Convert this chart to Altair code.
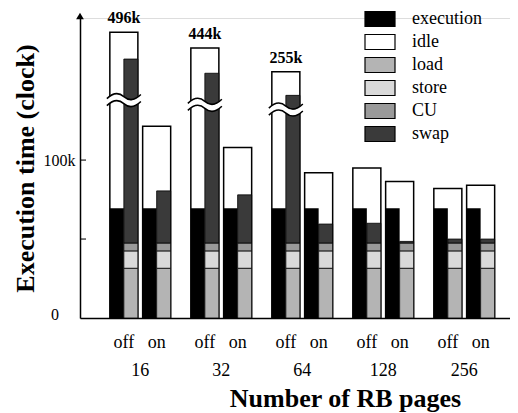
import altair as alt
import pandas as pd

FONT = "Liberation Serif"

groups = ["16", "32", "64", "128", "256"]
conds = ["off", "on"]

# one entry per bar: 16 off, 16 on, 32 off, 32 on, ... (drawn heights, clock)
total = [181000, 121500, 171000, 108000, 156000, 92000, 95000, 86500, 82000, 84000]
execution = [69500, 69500, 69500, 69500, 69500, 69500, 69500, 69500, 69500, 69500]
load = [31500, 31500, 31500, 31500, 31500, 31500, 31500, 31500, 31500, 31500]
store = [11000, 11000, 11000, 11000, 11000, 11000, 11000, 11000, 11000, 11000]
cu = [5000, 5000, 5000, 5000, 5000, 5000, 5000, 5000, 5000, 5000]
swap = [116500, 33000, 107500, 30500, 93500, 12000, 12500, 1000, 2500, 2500]
true_total = ["496k", "", "444k", "", "255k", "", "", "", "", ""]
break_at = [138000, None, 135000, None, 132000, None, None, None, None, None]

legend_names = ["execution", "idle", "load", "store", "CU", "swap"]
legend_colors = ["#000000", "#ffffff", "#b4b4b4", "#d9d9d9", "#9a9a9a", "#3a3a3a"]

y_ticks = [50000, 100000]

# ---- tables ----
rows = []
parts = []
for k in range(len(total)):
    gi, ci = divmod(k, 2)
    rows.append(dict(group=groups[gi], cond=conds[ci], gi=gi, ci=ci,
                     total=total[k], execution=execution[k],
                     label=true_total[k], brk=break_at[k]))
    for o, (name, vals) in enumerate([("load", load), ("store", store), ("CU", cu), ("swap", swap)]):
        parts.append(dict(bar=k, gi=gi, ci=ci, part=name, value=vals[k], order=o))
bars = pd.DataFrame(rows)
parts = pd.DataFrame(parts)
grp = pd.DataFrame({"gi": list(range(len(groups))), "group": groups})
leg = pd.DataFrame({"name": legend_names})
ticks = pd.DataFrame({"v": y_ticks})

xscale = alt.Scale(domain=[-0.744, 4.565], nice=False, zero=False)
yscale = alt.Scale(domain=[0, 190000], nice=False)
cscale = alt.Scale(domain=legend_names, range=legend_colors)

X_AX = alt.Axis(title="Number of RB pages", labels=False, ticks=False, grid=False,
                domainColor="black", domainWidth=1.5, titleFont=FONT,
                titleFontSize=26, titleFontWeight="bold", titleColor="black",
                titleX=265, titleY=80, titleAlign="center", titleBaseline="middle")
Y_AX = alt.Axis(title="Execution time (clock)", values=[100000],
                labelExpr="datum.value == 100000 ? '100k' : ''",
                ticks=False, grid=False, domainColor="black", domainWidth=1.5,
                labelFont=FONT, labelFontSize=16, labelColor="black", labelPadding=5,
                titleFont=FONT, titleFontSize=26, titleFontWeight="bold",
                titleColor="black", titlePadding=5)


def X(f):
    return alt.X(f, scale=xscale, axis=X_AX)


def Y(f):
    return alt.Y(f, scale=yscale, axis=Y_AX)


half = 0.173


def pos(ch):
    return (ch.transform_calculate(xc="datum.gi + (datum.ci - 0.5) * 0.405")
              .transform_calculate(x0=f"datum.xc - {half}", x1=f"datum.xc + {half}"))


outline = pos(alt.Chart(bars)).mark_bar(fill="white", stroke="black", strokeWidth=1.5).encode(
    x=X("x0:Q"), x2="x1:Q", y=Y("total:Q"), y2=alt.datum(0))

execb = pos(alt.Chart(bars)).mark_bar(fill="black").encode(
    x=X("x0:Q"), x2="xc:Q", y=Y("execution:Q"), y2=alt.datum(0))

stack = (pos(alt.Chart(parts))
         .transform_stack(stack="value", groupby=["bar"], as_=["y0", "y1"],
                          sort=[alt.SortField("order")])
         .mark_bar(stroke="black", strokeWidth=0.8)
         .encode(x=X("xc:Q"), x2="x1:Q", y=Y("y0:Q"), y2="y1:Q",
                 color=alt.Color("part:N", scale=cscale, legend=None)))

wave = "M-1,0.12 C-0.55,-0.32 -0.25,-0.22 0,0 C0.25,0.22 0.55,0.32 1,-0.12"
brk_base = pos(alt.Chart(bars)).transform_filter("datum.brk != null")
brk_white = brk_base.mark_point(shape=wave, filled=False, color="white", strokeWidth=6,
                                size=1156, opacity=1).encode(x=X("xc:Q"), y=Y("brk:Q"))
brk_top = brk_base.mark_point(shape=wave, filled=False, color="black", strokeWidth=1.5,
                              size=1156, opacity=1, yOffset=-3.5).encode(x=X("xc:Q"), y=Y("brk:Q"))
brk_bot = brk_base.mark_point(shape=wave, filled=False, color="black", strokeWidth=1.5,
                              size=1156, opacity=1, yOffset=3.5).encode(x=X("xc:Q"), y=Y("brk:Q"))

top_lbl = pos(alt.Chart(bars)).transform_filter("datum.label != ''").mark_text(
    font=FONT, fontSize=16, fontWeight="bold", dy=-14, color="black").encode(
    x=X("xc:Q"), y=Y("total:Q"), text="label:N")

cond_lbl = pos(alt.Chart(bars)).mark_text(font=FONT, fontSize=18, color="black",
                                          baseline="middle").encode(
    x=X("xc:Q"), y=alt.value(325), text="cond:N")

grp_lbl = alt.Chart(grp).mark_text(font=FONT, fontSize=18, color="black",
                                   baseline="middle").encode(
    x=X("gi:Q"), y=alt.value(353), text="group:N")

tick_m = alt.Chart(ticks).mark_tick(color="black", thickness=1.5, size=6).encode(
    y=Y("v:Q"), x=alt.value(3))

zero_lbl = alt.Chart(pd.DataFrame({"t": ["0"]})).mark_text(
    font=FONT, fontSize=16, color="black", align="right", baseline="middle", dy=-3).encode(
    x=alt.value(-21), y=alt.datum(0), text="t:N")

arrow = alt.Chart(pd.DataFrame({"a": [0]})).mark_point(
    shape="triangle-up", filled=True, color="black", size=60, opacity=1).encode(
    x=alt.value(0), y=alt.value(-2))

main = alt.layer(outline, execb, stack, brk_white, brk_top, brk_bot, top_lbl,
                 cond_lbl, grp_lbl, tick_m, zero_lbl, arrow)

ly = alt.Y("name:N", scale=alt.Scale(type="point", domain=legend_names, range=[1, 116], padding=0),
           axis=None)
swatch_shape = "M-1,-0.5H1V0.5H-1Z"
leg_sw = alt.Chart(leg).mark_point(shape=swatch_shape, filled=True, size=900, stroke="black",
                                   strokeWidth=1.2, opacity=1).encode(
    x=alt.value(300), y=ly, fill=alt.Color("name:N", scale=cscale, legend=None))
leg_tx = alt.Chart(leg).mark_text(font=FONT, fontSize=18, align="left", baseline="middle",
                                  color="black").encode(x=alt.value(332), y=ly, text="name:N")
legend = alt.layer(leg_sw, leg_tx)

chart = (alt.layer(main, legend)
         .resolve_scale(y="independent")
         .properties(width=430, height=300,
                     autosize=alt.AutoSizeParams(type="none"),
                     padding={"left": 72, "top": 10, "right": 0, "bottom": 95})
         .configure_view(stroke=None)
         .configure(background="white"))

chart.save("out.html", embed_options={"renderer": "svg", "actions": False})
